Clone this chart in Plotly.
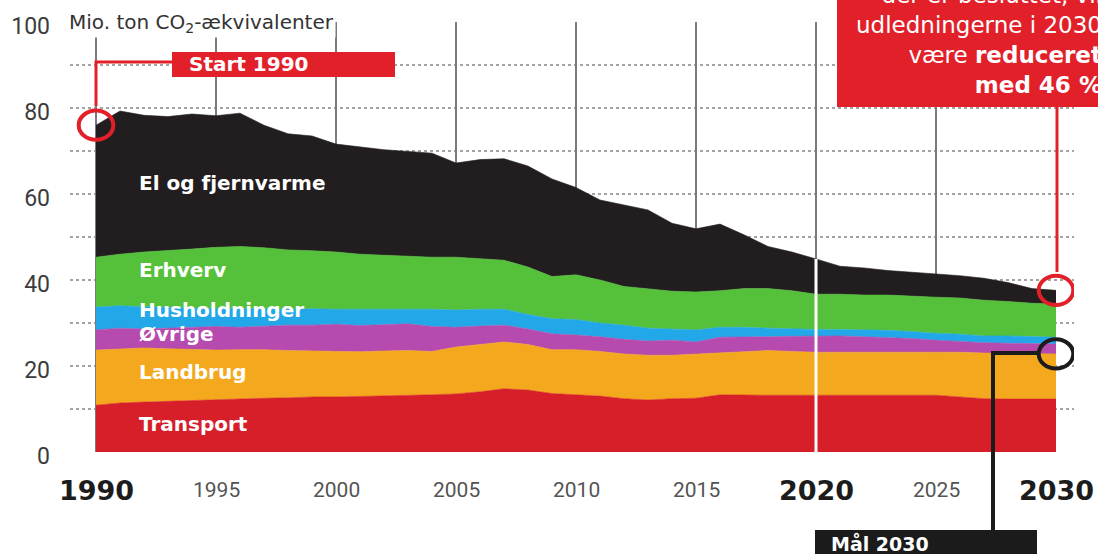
import plotly.graph_objects as go

# ---------------- data (Mio. ton CO2-ækvivalenter) ----------------
years = list(range(1990, 2031))

transport = [10.9, 11.4, 11.6, 11.8, 12.0, 12.2, 12.4, 12.5, 12.6, 12.8,
             12.8, 12.9, 13.0, 13.2, 13.3, 13.5, 14.0, 14.7, 14.4, 13.6,
             13.3, 13.0, 12.4, 12.1, 12.4, 12.5, 13.3, 13.2, 13.2, 13.2,
             13.2, 13.2, 13.2, 13.2, 13.2, 13.2, 12.8, 12.4, 12.3, 12.3, 12.3]
landbrug = [12.8, 12.6, 12.6, 12.2, 11.8, 11.5, 11.4, 11.3, 11.0, 10.7,
            10.5, 10.4, 10.5, 10.4, 10.1, 10.9, 11.0, 10.9, 10.6, 10.2,
            10.5, 10.4, 10.4, 10.4, 10.1, 10.3, 9.7, 10.2, 10.4, 10.2,
            10.0, 10.0, 10.0, 10.0, 10.0, 10.0, 10.4, 10.6, 10.6, 10.5, 10.5]
ovrige = [4.7, 4.8, 4.4, 4.8, 5.2, 5.5, 5.2, 5.5, 5.9, 6.0,
          6.4, 6.1, 6.1, 6.2, 5.8, 4.6, 4.3, 3.9, 3.6, 3.7,
          3.4, 3.4, 3.4, 3.3, 3.5, 2.8, 3.7, 3.3, 3.2, 3.5,
          3.8, 3.8, 3.6, 3.4, 3.2, 2.8, 2.5, 2.4, 2.4, 2.4, 2.3]
husholdninger = [5.3, 5.2, 5.2, 4.8, 4.5, 4.2, 4.4, 4.0, 3.7, 3.8,
                 3.5, 3.8, 3.7, 3.4, 4.0, 4.0, 3.9, 3.7, 3.4, 3.5,
                 3.6, 3.2, 3.3, 3.0, 2.6, 2.8, 2.3, 2.3, 2.0, 1.7,
                 1.5, 1.5, 1.6, 1.7, 1.6, 1.6, 1.7, 1.6, 1.7, 1.7, 1.6]
erhverv = [11.6, 12.0, 12.7, 13.2, 13.7, 14.2, 14.4, 14.2, 13.8, 13.5,
           13.3, 12.8, 12.5, 12.3, 12.1, 12.3, 11.8, 11.4, 11.0, 9.8,
           10.4, 10.0, 9.0, 9.2, 8.8, 8.8, 8.5, 9.0, 9.2, 8.9,
           8.2, 8.2, 8.1, 8.2, 8.2, 8.4, 8.4, 8.3, 8.0, 7.7, 7.7]
el_fjernvarme = [30.7, 33.3, 31.8, 31.2, 31.4, 30.6, 31.0, 28.5, 27.0, 26.7,
                 25.1, 25.0, 24.5, 24.4, 24.2, 21.9, 23.0, 23.6, 23.5, 22.7,
                 20.3, 18.6, 19.0, 18.3, 15.8, 14.7, 15.5, 12.5, 9.8, 9.0,
                 8.2, 6.5, 6.3, 5.7, 5.6, 5.4, 5.2, 5.1, 4.4, 3.4, 3.2]

series_names = ["Transport", "Landbrug", "Øvrige", "Husholdninger", "Erhverv", "El og fjernvarme"]
series_values = [transport, landbrug, ovrige, husholdninger, erhverv, el_fjernvarme]
series_colors = ["#d71f29", "#f4a81d", "#b64aae", "#22a8e8", "#55c13a", "#221e1f"]

x_tick_years = [1990, 1995, 2000, 2005, 2010, 2015, 2020, 2025, 2030]
bold_years = [1990, 2020, 2030]
y_tick_vals = [0, 20, 40, 60, 80, 100]
y_tick_text = ["0", "20", "40", "60", "80", "100"]

# ---------------- layout geometry ----------------
W, H = 1098, 554
ML, MR, MT, MB = 70, 24, 22, 102
PW, PH = W - ML - MR, H - MT - MB


def px(x):
    return (x - ML) / PW


def py(y):
    return (H - MB - y) / PH


fig = go.Figure()
for name, vals, col in zip(series_names, series_values, series_colors):
    fig.add_trace(go.Scatter(
        x=years, y=vals, name=name, stackgroup="one", mode="lines",
        line=dict(width=0.6, color=col), fillcolor=col, hoverinfo="x+y+name"))

shapes = []
# vertical grey guide lines
for yr in x_tick_years[:-1]:
    shapes.append(dict(type="line", xref="x", yref="y", x0=yr, x1=yr, y0=0, y1=100,
                       line=dict(color="#7b7b7b", width=2), layer="between"))
# white line through the area at 2020
i2020 = years.index(2020)
total_2020 = sum(s[i2020] for s in series_values)
shapes.append(dict(type="line", xref="x", yref="y", x0=2020, x1=2020, y0=0, y1=total_2020,
                   line=dict(color="white", width=3), layer="above"))

RED = "#e2202a"
# Start 1990 callout
total_1990 = sum(s[0] for s in series_values)
shapes.append(dict(type="rect", xref="paper", yref="paper", x0=px(172), x1=px(395), y0=py(77), y1=py(52),
                   fillcolor=RED, line=dict(width=0), layer="above"))
shapes.append(dict(type="path", xref="paper", yref="paper",
                   path=f"M {px(172)},{py(62)} L {px(96)},{py(62)} L {px(96)},{py(106)}",
                   line=dict(color=RED, width=3), layer="above"))
shapes.append(dict(type="circle", xref="x", yref="y", x0=1990 - 0.72, x1=1990 + 0.72,
                   y0=total_1990 - 3.4, y1=total_1990 + 3.4,
                   line=dict(color=RED, width=4), layer="above"))

# top-right red box callout
total_2030 = sum(s[-1] for s in series_values)
shapes.append(dict(type="rect", xref="paper", yref="paper", x0=px(837), x1=px(1110), y0=py(107), y1=py(-20),
                   fillcolor=RED, line=dict(width=0), layer="above"))
shapes.append(dict(type="line", xref="paper", yref="paper", x0=px(1057), x1=px(1057), y0=py(107), y1=py(272),
                   line=dict(color=RED, width=3), layer="above"))
shapes.append(dict(type="circle", xref="x", yref="y", x0=2030 - 0.72, x1=2030 + 0.72,
                   y0=total_2030 - 3.4, y1=total_2030 + 3.4,
                   line=dict(color=RED, width=4), layer="above"))

# Mål 2030 callout
goal_2030 = transport[-1] + landbrug[-1]
shapes.append(dict(type="circle", xref="x", yref="y", x0=2030 - 0.72, x1=2030 + 0.72,
                   y0=goal_2030 - 3.4, y1=goal_2030 + 3.4,
                   line=dict(color="#1b1b1b", width=4), layer="above"))
shapes.append(dict(type="path", xref="paper", yref="paper",
                   path=f"M {px(1040)},{py(353)} L {px(993)},{py(353)} L {px(993)},{py(531)}",
                   line=dict(color="#1b1b1b", width=4), layer="above"))
shapes.append(dict(type="rect", xref="paper", yref="paper", x0=px(815), x1=px(1037), y0=py(560), y1=py(530),
                   fillcolor="#1b1b1b", line=dict(width=0), layer="above"))

annotations = []
# title
annotations.append(dict(x=px(67), y=py(23), xref="paper", yref="paper", xanchor="left", yanchor="middle",
                        text="Mio. ton CO<sub>2</sub>-ækvivalenter", showarrow=False, bgcolor="white",
                        font=dict(family="DejaVu Sans", size=20, color="#333333")))
# x tick labels
for yr in x_tick_years:
    if yr in bold_years:
        txt = f"<b>{yr}</b>"
        fnt = dict(family="DejaVu Sans", size=27, color="#1c1c1c")
    else:
        txt = str(yr)
        fnt = dict(family="Roboto", size=21, color="#555555")
    annotations.append(dict(x=yr, y=py(490), xref="x", yref="paper", xanchor="center", yanchor="middle",
                            text=txt, showarrow=False, font=fnt))
# series labels
label_pos = {"El og fjernvarme": 183, "Erhverv": 270, "Husholdninger": 310,
             "Øvrige": 334, "Landbrug": 372, "Transport": 424}
for name in series_names:
    annotations.append(dict(x=px(137), y=py(label_pos[name]), xref="paper", yref="paper",
                            xanchor="left", yanchor="middle", text=f"<b>{name}</b>", showarrow=False,
                            font=dict(family="DejaVu Sans", size=20, color="white")))
# callout texts
annotations.append(dict(x=px(187), y=py(64.5), xref="paper", yref="paper", xanchor="left", yanchor="middle",
                        text="<b>Start 1990</b>", showarrow=False,
                        font=dict(family="DejaVu Sans", size=20, color="white")))
annotations.append(dict(x=px(1104), y=py(40), xref="paper", yref="paper", xanchor="right", yanchor="middle",
                        align="right",
                        text="der er besluttet, vil<br>udledningerne i 2030<br>være <b>reduceret</b><br><b>med 46 %</b>",
                        showarrow=False, font=dict(family="DejaVu Sans", size=23, color="white")))
annotations.append(dict(x=px(829), y=py(543), xref="paper", yref="paper", xanchor="left", yanchor="middle",
                        text="<b>Mål 2030</b>", showarrow=False,
                        font=dict(family="DejaVu Sans", size=19, color="white")))

fig.update_layout(
    width=W, height=H, margin=dict(l=ML, r=MR, t=MT, b=MB, autoexpand=False),
    paper_bgcolor="white", plot_bgcolor="white", showlegend=False,
    shapes=shapes, annotations=annotations,
)
fig.update_xaxes(range=[1990 - 26 / 24, 2030 + 18 / 24], showgrid=False, zeroline=False,
                 showticklabels=False, ticks="", showline=False, automargin=False)
fig.update_yaxes(range=[0, 100], tickvals=y_tick_vals, ticktext=y_tick_text, showgrid=True,
                 gridcolor="#a3a3a3", griddash="dot", gridwidth=2, zeroline=False, ticks="",
                 showline=False, ticklabelstandoff=19, ticklabelshift=4, automargin=False,
                 minor=dict(dtick=10, showgrid=True, gridcolor="#a3a3a3", griddash="dot", gridwidth=2),
                 tickfont=dict(family="Roboto", size=23, color="#3c3c3c"))

fig.write_html("out.html")
